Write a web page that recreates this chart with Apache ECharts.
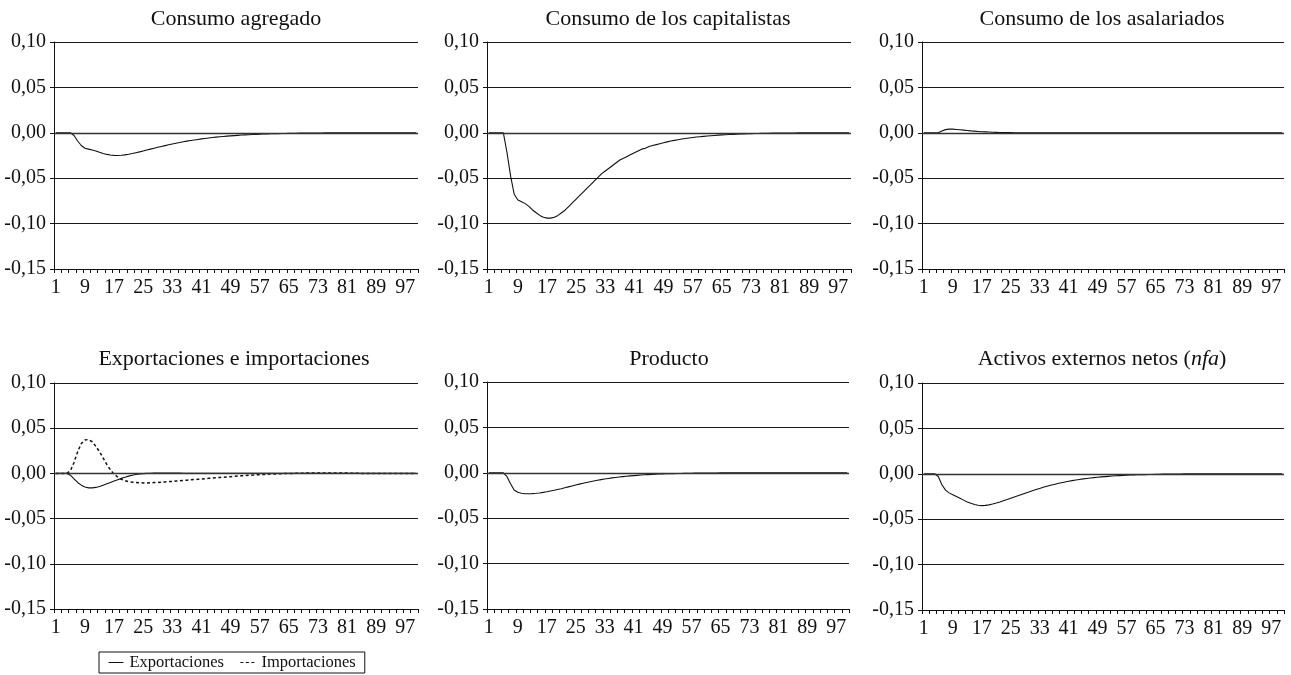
<!DOCTYPE html>
<html>
<head>
<meta charset="utf-8">
<title>Funciones impulso-respuesta</title>
<script src="https://cdn.jsdelivr.net/npm/echarts@6/dist/echarts.min.js"></script>
<style>
  html, body { margin: 0; padding: 0; background: #fff; }
  #chart { width: 1291px; height: 675px; }
</style>
</head>
<body>
<div id="chart"></div>
<script>
// Periods 1..100 on the horizontal axis
const periods = Array.from({ length: 100 }, (_, i) => String(i + 1));

const yTicks = [-0.15, -0.10, -0.05, 0.00, 0.05, 0.10];

const panelTitles = [
  'Consumo agregado',
  'Consumo de los capitalistas',
  'Consumo de los asalariados',
  'Exportaciones e importaciones',
  'Producto',
  'Activos externos netos ({i|nfa})'
];

const consumoAgregado = [
  0, 0, 0, 0, 0, -0.003, -0.009, -0.014, -0.017, -0.018,
  -0.019, -0.020, -0.0215, -0.0228, -0.0238, -0.0245, -0.0249, -0.0250, -0.0248, -0.0243,
  -0.0236, -0.0228, -0.0219, -0.0210, -0.0200, -0.0190, -0.0180, -0.0170, -0.0160, -0.0150,
  -0.0141, -0.0132, -0.0123, -0.0115, -0.0107, -0.0099, -0.0092, -0.0085, -0.0079, -0.0073,
  -0.0067, -0.0062, -0.0057, -0.0052, -0.0048, -0.0044, -0.0040, -0.0037, -0.0034, -0.0031,
  -0.0028, -0.0025, -0.0023, -0.0021, -0.0019, -0.0017, -0.0015, -0.0014, -0.0012, -0.0011,
  -0.0010, -0.0009, -0.0008, -0.0007, -0.0006, -0.0005, -0.0005, -0.0004, -0.0004, -0.0003,
  -0.0003, -0.0002, -0.0002, -0.0002, -0.0001, -0.0001, -0.0001, -0.0001, -0.0001, -0.0001,
  0, 0, 0, 0, 0, 0, 0, 0, 0, 0,
  0, 0, 0, 0, 0, 0, 0, 0, 0, 0
];

const consumoCapitalistas = [
  0, 0, 0, 0, 0, -0.022, -0.048, -0.068, -0.074, -0.076,
  -0.078, -0.081, -0.085, -0.088, -0.091, -0.093, -0.094, -0.094, -0.093, -0.091,
  -0.088, -0.085, -0.081, -0.077, -0.073, -0.069, -0.065, -0.061, -0.057, -0.053,
  -0.049, -0.045, -0.042, -0.039, -0.036, -0.033, -0.030, -0.028, -0.026, -0.024,
  -0.022, -0.020, -0.018, -0.017, -0.015, -0.014, -0.013, -0.012, -0.011, -0.010,
  -0.009, -0.0083, -0.0076, -0.0069, -0.0063, -0.0057, -0.0052, -0.0047, -0.0043, -0.0039,
  -0.0035, -0.0032, -0.0029, -0.0026, -0.0023, -0.0021, -0.0019, -0.0017, -0.0015, -0.0013,
  -0.0012, -0.0010, -0.0009, -0.0008, -0.0007, -0.0006, -0.0005, -0.0005, -0.0004, -0.0004,
  -0.0003, -0.0003, -0.0002, -0.0002, -0.0002, -0.0001, -0.0001, -0.0001, -0.0001, -0.0001,
  0, 0, 0, 0, 0, 0, 0, 0, 0, 0
];

const consumoAsalariados = [
  0, 0, 0, 0, 0, 0.002, 0.0035, 0.004, 0.004, 0.0037,
  0.0033, 0.0029, 0.0025, 0.0021, 0.0018, 0.0015, 0.0012, 0.0010, 0.0008, 0.0006,
  0.0005, 0.0004, 0.0003, 0.0002, 0.0002, 0.0001, 0.0001, 0, 0, 0,
  0, 0, 0, 0, 0, 0, 0, 0, 0, 0,
  0, 0, 0, 0, 0, 0, 0, 0, 0, 0,
  0, 0, 0, 0, 0, 0, 0, 0, 0, 0,
  0, 0, 0, 0, 0, 0, 0, 0, 0, 0,
  0, 0, 0, 0, 0, 0, 0, 0, 0, 0,
  0, 0, 0, 0, 0, 0, 0, 0, 0, 0,
  0, 0, 0, 0, 0, 0, 0, 0, 0, 0
];

const exportaciones = [
  0, 0, 0, 0, -0.002, -0.006, -0.010, -0.013, -0.015, -0.016,
  -0.016, -0.0155, -0.0145, -0.013, -0.0115, -0.010, -0.0085, -0.007, -0.0055, -0.0042,
  -0.003, -0.002, -0.0013, -0.0007, -0.0003, 0, 0.0002, 0.0003, 0.0003, 0.0003,
  0.0003, 0.0003, 0.0003, 0.0003, 0.0003, 0.0002, 0.0002, 0.0002, 0.0001, 0.0001,
  0.0001, 0, 0, 0, 0, 0, 0, 0, 0, 0,
  0, 0, 0, 0, 0, 0, 0, 0, 0, 0,
  0, 0, 0, 0, 0, 0, 0, 0, 0, 0,
  0, 0, 0, 0, 0, 0, 0, 0, 0, 0,
  0, 0, 0, 0, 0, 0, 0, 0, 0, 0,
  0, 0, 0, 0, 0, 0, 0, 0, 0, 0
];

const importaciones = [
  0, 0, 0, 0, 0.003, 0.012, 0.024, 0.033, 0.037, 0.0375,
  0.035, 0.030, 0.024, 0.017, 0.010, 0.004, -0.001, -0.004, -0.0065, -0.008,
  -0.009, -0.0097, -0.0101, -0.0104, -0.0105, -0.0105, -0.0104, -0.0102, -0.0100, -0.0097,
  -0.0094, -0.0091, -0.0088, -0.0085, -0.0082, -0.0078, -0.0075, -0.0072, -0.0068, -0.0065,
  -0.0062, -0.0058, -0.0055, -0.0052, -0.0048, -0.0045, -0.0042, -0.0039, -0.0036, -0.0033,
  -0.0030, -0.0027, -0.0024, -0.0021, -0.0019, -0.0016, -0.0014, -0.0012, -0.0010, -0.0008,
  -0.0006, -0.0005, -0.0003, -0.0002, -0.0001, 0, 0.0001, 0.0002, 0.0003, 0.0004,
  0.0005, 0.0005, 0.0005, 0.0005, 0.0005, 0.0005, 0.0005, 0.0005, 0.0005, 0.0005,
  0.0004, 0.0003, 0.0002, 0.0001, 0, 0, 0, 0, 0, 0,
  0, 0, 0, 0, 0, 0, 0, 0, 0, 0
];

const producto = [
  0, 0, 0, 0, 0, -0.004, -0.012, -0.019, -0.0215, -0.0225,
  -0.023, -0.023, -0.0229, -0.0226, -0.0222, -0.0216, -0.0209, -0.0201, -0.0193, -0.0184,
  -0.0175, -0.0165, -0.0155, -0.0145, -0.0135, -0.0125, -0.0116, -0.0107, -0.0098, -0.0090,
  -0.0082, -0.0075, -0.0068, -0.0062, -0.0056, -0.0051, -0.0046, -0.0042, -0.0038, -0.0034,
  -0.0031, -0.0028, -0.0025, -0.0022, -0.0020, -0.0018, -0.0016, -0.0014, -0.0013, -0.0011,
  -0.0010, -0.0009, -0.0008, -0.0007, -0.0006, -0.0005, -0.0005, -0.0004, -0.0004, -0.0003,
  -0.0003, -0.0002, -0.0002, -0.0002, -0.0001, -0.0001, -0.0001, 0, 0, 0,
  0, 0, 0, 0, 0, 0, 0, 0, 0, 0,
  0, 0, 0, 0, 0, 0, 0, 0, 0, 0,
  0, 0, 0, 0, 0, 0, 0, 0, 0, 0
];

const activosExternos = [
  0, 0, 0, 0, -0.003, -0.012, -0.018, -0.021, -0.023, -0.025,
  -0.027, -0.029, -0.031, -0.0325, -0.0338, -0.0346, -0.035, -0.0348, -0.0342, -0.0333,
  -0.0322, -0.031, -0.0297, -0.0284, -0.027, -0.0256, -0.0242, -0.0228, -0.0214, -0.020,
  -0.0187, -0.0174, -0.0161, -0.0149, -0.0138, -0.0127, -0.0117, -0.0107, -0.0098, -0.0090,
  -0.0082, -0.0075, -0.0068, -0.0062, -0.0056, -0.0051, -0.0046, -0.0042, -0.0038, -0.0034,
  -0.0031, -0.0028, -0.0025, -0.0022, -0.0020, -0.0018, -0.0016, -0.0014, -0.0012, -0.0011,
  -0.0010, -0.0009, -0.0008, -0.0007, -0.0006, -0.0005, -0.0004, -0.0004, -0.0003, -0.0003,
  -0.0002, -0.0002, -0.0001, -0.0001, 0, 0, 0, 0, 0, 0,
  0, 0, 0, 0, 0, 0, 0, 0, 0, 0,
  0, 0, 0, 0, 0, 0, 0, 0, 0, 0
];

const FONT = 'Liberation Serif';
const INK = '#111';

// Panel frames: [left, top, width, height]
const frames = [
  [54, 42, 364, 227],
  [487, 42, 364, 227],
  [922, 42, 362, 227],
  [54, 383, 364, 226],
  [487, 382, 362, 227],
  [922, 383, 362, 227]
];
const titleCenters = [[236, 8], [668, 8], [1102, 8], [234, 348], [669, 348], [1102, 348]];

const fmt = v => {
  if (Math.abs(v) < 1e-9) v = 0;
  return v.toFixed(2).replace('.', ',');
};

const grids = frames.map(f => ({ left: f[0], top: f[1], width: f[2], height: f[3] }));

const xAxes = frames.map((f, k) => ({
  type: 'category',
  gridIndex: k,
  data: periods,
  boundaryGap: true,
  axisLine: { onZero: false, lineStyle: { color: INK, width: 1 } },
  axisTick: { show: true, interval: 1, length: 4, lineStyle: { color: INK } },
  axisLabel: { interval: 7, color: INK, fontFamily: FONT, fontSize: 20, margin: 9 },
  splitLine: { show: false }
}));

const yAxes = frames.map((f, k) => ({
  type: 'value',
  gridIndex: k,
  min: yTicks[0],
  max: yTicks[yTicks.length - 1],
  interval: 0.05,
  axisLine: { show: true, lineStyle: { color: INK, width: 1 } },
  axisTick: { show: true, length: 4, lineStyle: { color: INK } },
  axisLabel: { color: INK, fontFamily: FONT, fontSize: 20, margin: 8, formatter: fmt },
  splitLine: { show: true, lineStyle: { color: '#1a1a1a', width: 1 } }
}));

const zeroLine = {
  silent: true,
  symbol: 'none',
  label: { show: false },
  lineStyle: { color: '#333', width: 1.3, type: 'solid' },
  data: [{ yAxis: 0 }]
};

const solid = (name, data, k, extra) => Object.assign({
  name,
  type: 'line',
  xAxisIndex: k,
  yAxisIndex: k,
  data,
  symbol: 'none',
  smooth: false,
  lineStyle: { color: INK, width: 1.1 },
  itemStyle: { color: INK },
  markLine: zeroLine,
  z: 3
}, extra || {});

const series = [
  solid('Consumo agregado', consumoAgregado, 0),
  solid('Consumo de los capitalistas', consumoCapitalistas, 1),
  solid('Consumo de los asalariados', consumoAsalariados, 2),
  solid('Exportaciones', exportaciones, 3),
  solid('Importaciones', importaciones, 3, {
    lineStyle: { color: INK, width: 1.5, type: [3, 2.5] },
    markLine: undefined
  }),
  solid('Producto', producto, 4),
  solid('Activos externos netos', activosExternos, 5)
];

const titles = panelTitles.map((t, k) => ({
  text: t,
  left: titleCenters[k][0],
  top: titleCenters[k][1],
  textAlign: 'center',
  padding: 0,
  textStyle: {
    fontFamily: FONT, fontSize: 22, fontWeight: 'normal', color: INK,
    rich: { i: { fontFamily: FONT, fontSize: 22, fontStyle: 'italic', color: INK } }
  }
}));

const chart = echarts.init(document.getElementById('chart'), null, { renderer: 'canvas' });
chart.setOption({
  animation: false,
  backgroundColor: '#fff',
  title: titles,
  grid: grids,
  xAxis: xAxes,
  yAxis: yAxes,
  legend: {
    data: ['Exportaciones', 'Importaciones'],
    left: 99,
    top: 652,
    orient: 'horizontal',
    borderColor: INK,
    borderWidth: 1,
    borderRadius: 0,
    padding: [2, 9, 2, 9],
    itemGap: 16,
    itemWidth: 15,
    itemHeight: 2,
    itemStyle: { opacity: 0 },
    lineStyle: { width: 1 },
    textStyle: { fontFamily: FONT, fontSize: 16.5, color: INK, padding: [0, 0, 0, 1] }
  },
  series
});
</script>
</body>
</html>
